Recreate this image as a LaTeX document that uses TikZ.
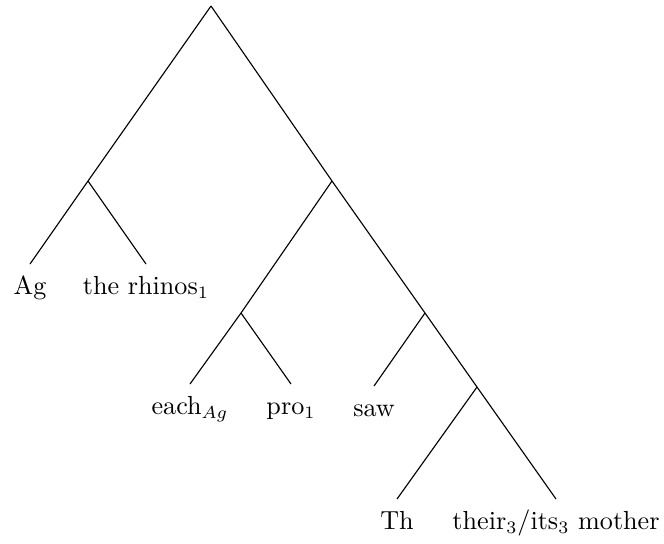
\documentclass[tikz,border=0pt]{standalone}
\begin{document}
\begin{tikzpicture}[x=0.4pt,y=-0.4pt,
  leaf/.style={anchor=north,inner xsep=0pt,inner ysep=5pt,outer sep=0pt,
    font=\fontsize{10.45pt}{12.5pt}\selectfont,text height=7.25pt,text depth=2pt},
  branch/.style={draw=black,line width=0.45pt}]
\useasboundingbox (0,0) rectangle (664,543);
% branching points
\coordinate (top) at (211,6);
\coordinate (l) at (88,181);
\coordinate (r) at (332,181);
\coordinate (rl) at (241,313);
\coordinate (rr) at (425,313);
\coordinate (rrr) at (477,387);
% leaves
\node[leaf] (ag) at (30,264) {Ag};
\node[leaf] (rhinos) at (146,264) {the rhinos$_1$};
\node[leaf] (each) at (190,384) {each$_{Ag}$};
\node[leaf] (pro) at (291,384) {pro$_1$};
\node[leaf] (saw) at (374,386) {saw};
\node[leaf] (th) at (397,499) {Th};
\node[leaf] (mother) at (556,499) {their$_3$/its$_3$ mother};
% branches
\draw[branch] (top) -- (l);
\draw[branch] (top) -- (r);
\draw[branch] (l) -- (ag.north);
\draw[branch] (l) -- (rhinos.north);
\draw[branch] (r) -- (rl);
\draw[branch] (r) -- (rr);
\draw[branch] (rl) -- (each.north);
\draw[branch] (rl) -- (pro.north);
\draw[branch] (rr) -- (saw.north);
\draw[branch] (rr) -- (rrr);
\draw[branch] (rrr) -- (th.north);
\draw[branch] (rrr) -- (mother.north);
\end{tikzpicture}
\end{document}
